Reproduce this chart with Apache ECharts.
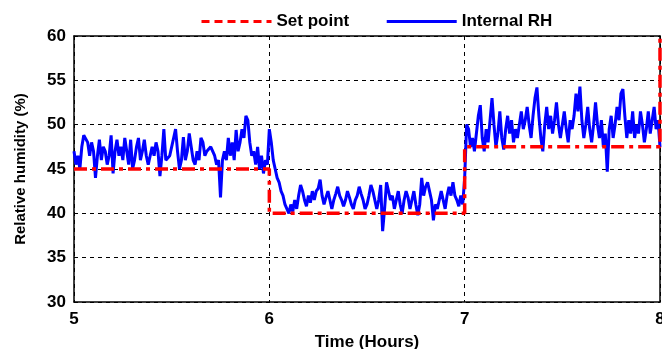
<!DOCTYPE html>
<html>
<head>
<meta charset="utf-8">
<script src="https://cdn.jsdelivr.net/npm/echarts@6/dist/echarts.min.js"></script>
<style>
  html, body { margin: 0; padding: 0; background: #fff; }
  #chart { width: 662px; height: 349px; }
</style>
</head>
<body>
<div id="chart"></div>
<script>
// temps en heures, pas de 0.01 h
const startTime = 5;
const step = 0.01;

// humidité interne (5.00 -> 8.00)
const rhHour1 = [47, 45.5, 46.5, 45, 47.5, 48.8, 49, 48, 46.5, 48,
  47, 44, 46.5, 48.3, 46, 47.5, 47, 45.5, 46.5, 48.8,
  44.5, 47, 48.3, 46.5, 47.5, 46, 48.5, 47, 45.5, 48.3,
  45, 46, 47.5, 48.5, 46, 47, 48.3, 46.5, 45.5, 46.5,
  47.5, 46.5, 48, 47, 44.2, 46.5, 49.5, 46, 45.8, 46.5,
  47.5, 48.5, 49.5, 47, 45, 46, 48.6, 46, 47, 49,
  47.5, 46, 45.5, 47, 46, 48.5, 48, 46.5, 47, 46.8,
  47.5, 47.5, 46.5, 45.5, 46, 41.8, 46, 47, 46, 48.5,
  46.5, 48, 46, 49.4, 47, 48, 49.5, 48.5, 51, 50.5,
  48, 46.5, 47, 45.5, 47.5, 45, 46.5, 44.5, 46, 45.5];
const rhHour2 = [49.5, 48, 46, 45, 44, 43.5, 42.5, 42, 41, 40.5,
  40, 41, 40.2, 41.5, 40.5, 42, 43.2, 42.5, 41.5, 40.8,
  42, 41.2, 42.5, 41.5, 42.5, 42.8, 43.8, 42, 41, 41.8,
  42.5, 41.5, 40.5, 41.5, 42.2, 43, 42, 41.5, 40.8, 41.5,
  42.5, 41.8, 41, 40.5, 41.5, 42, 43, 42.2, 41.5, 40.5,
  41, 42, 43.2, 42.5, 41.5, 40.5, 41.5, 43.2, 38, 40.5,
  43.5, 42.5, 41.5, 42, 40.5, 41.5, 42.5, 41, 40, 41.5,
  42.5, 41.8, 40.5, 41.5, 42.5, 41, 39.8, 41, 44, 42,
  43, 43.5, 42.5, 41.5, 39.2, 41, 40.5, 41.5, 42.5, 41.5,
  40.5, 42, 43, 42, 43.5, 42, 41.5, 40.8, 42, 41];
const rhHour3 = [44, 50, 49.5, 47.5, 48.5, 47, 49, 51, 52.2, 48.5,
  47, 49.5, 48, 50.5, 53, 50, 47.5, 49, 51.5, 48.5,
  47.2, 49.5, 51, 49, 50.5, 48, 49.5, 48.5, 50, 51.5,
  49.5, 50.5, 52, 50, 48.5, 51, 53, 54.2, 51, 48.5,
  47, 50, 52, 49.5, 51, 49, 50.5, 52.5, 50, 48.5,
  50, 51.5, 49.5, 48, 50.5, 49.5, 51, 53.5, 51.5, 54.3,
  50.5, 48.5, 50, 52, 49.5, 48, 50, 52.5, 50, 48.5,
  50.5, 47.5, 49, 44.7, 49.5, 51, 48.5, 50, 52, 50.5,
  53.5, 54, 51, 48.5, 50.5, 49, 51.5, 48.5, 50, 49,
  51.5, 50, 48, 49.5, 51.5, 49, 50.5, 52, 49.5, 50.5, 47.5];

// consigne en escalier
const setTimes = [5, 6, 6, 7, 7, 8, 8];
const setValues = [45, 45, 40, 40, 47.5, 47.5, 60];

const xTicks = [5, 6, 7, 8];
const yTicks = [30, 35, 40, 45, 50, 55, 60];

const rhValues = rhHour1.concat(rhHour2, rhHour3);
const rhData = rhValues.map((v, i) => [+(startTime + i * step).toFixed(2), v]);
const setData = setTimes.map((t, i) => [t, setValues[i]]);

const font = 'Liberation Sans, Arial, sans-serif';
const chart = echarts.init(document.getElementById('chart'));
const option = {
    animation: false,
    legend: {
        top: 8,
        left: 195,
        itemWidth: 70,
        itemHeight: 14,
        itemGap: 36,
        textStyle: { fontFamily: font, fontWeight: 'bold', fontSize: 17, color: '#000' },
        data: [
            { name: 'Set point', itemStyle: { opacity: 0 }, lineStyle: { type: [8, 5], width: 3 } },
            { name: 'Internal RH', itemStyle: { opacity: 0 }, lineStyle: { width: 3 } }
        ]
    },
    grid: { left: 74, right: 2, top: 36, bottom: 47, containLabel: false, outerBoundsMode: 'none' },
    xAxis: [{
        type: 'value',
        min: xTicks[0],
        max: xTicks[xTicks.length - 1],
        interval: 1,
        name: 'Time (Hours)',
        nameLocation: 'middle',
        nameGap: 32,
        nameTextStyle: { fontFamily: font, fontWeight: 'bold', fontSize: 17, color: '#000' },
        axisLine: { lineStyle: { color: '#000', width: 1.5 } },
        axisTick: { show: false },
        axisLabel: { fontFamily: font, fontWeight: 'bold', fontSize: 17, color: '#000', margin: 9 },
        splitLine: { show: true, lineStyle: { color: '#000', type: [4, 4], width: 1 } }
    }, {
        type: 'value', position: 'top', min: 5, max: 8,
        axisLine: { show: true, lineStyle: { color: '#000', width: 1.5 } },
        axisTick: { show: false }, axisLabel: { show: false }, splitLine: { show: false }
    }],
    yAxis: [{
        type: 'value',
        min: yTicks[0],
        max: yTicks[yTicks.length - 1],
        interval: 5,
        name: 'Relative humidity (%)',
        nameLocation: 'middle',
        nameGap: 46,
        nameTextStyle: { fontFamily: font, fontWeight: 'bold', fontSize: 15, color: '#000' },
        axisLine: { show: true, lineStyle: { color: '#000', width: 1.5 } },
        axisTick: { show: false },
        axisLabel: { fontFamily: font, fontWeight: 'bold', fontSize: 17, color: '#000', margin: 8 },
        splitLine: { show: true, lineStyle: { color: '#000', type: [4, 4], width: 1 } }
    }, {
        type: 'value', position: 'right', min: 30, max: 60,
        axisLine: { show: true, lineStyle: { color: '#000', width: 1.5 } },
        axisTick: { show: false }, axisLabel: { show: false }, splitLine: { show: false }
    }],
    series: [{
        name: 'Internal RH',
        type: 'line',
        data: rhData,
        showSymbol: false,
        lineStyle: { color: '#0000ff', width: 3 },
        itemStyle: { color: '#0000ff' },
        z: 2
    }, {
        name: 'Set point',
        type: 'line',
        data: setData,
        showSymbol: false,
        lineStyle: { color: '#ff0000', width: 3.5, type: [13, 5, 4, 5] },
        itemStyle: { color: '#ff0000' },
        z: 3
    }]
};
chart.setOption(option);
</script>
</body>
</html>
